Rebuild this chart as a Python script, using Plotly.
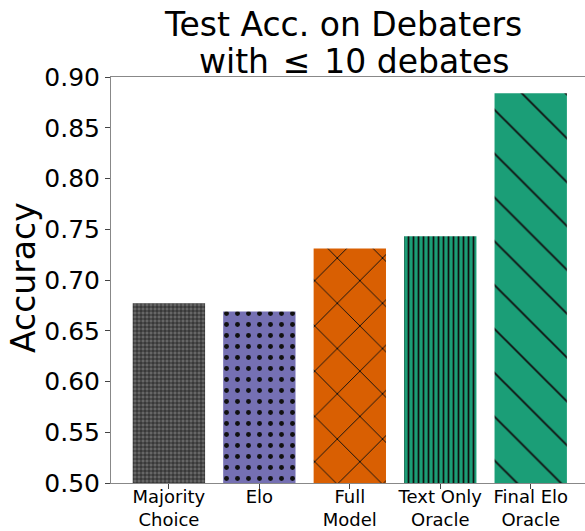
import plotly.graph_objects as go

models = ["Majority<br>Choice", "Elo", "Full<br>Model", "Text Only<br>Oracle", "Final Elo<br>Oracle"]
accuracy = [0.677, 0.669, 0.731, 0.743, 0.884]
colors = ["#666666", "#7570b3", "#d95f02", "#1b9e77", "#1b9e77"]
hatches = ["+", ".", "x", "|", "\\"]
hatch_sizes = [4, 11, 32, 5, 31]
hatch_solidity = [0.3, 0.16, 0.06, 0.35, 0.06]

font = "DejaVu Sans"

fig = go.Figure()
for i, name in enumerate(models):
    fig.add_trace(
        go.Bar(
            x=[i],
            y=[accuracy[i]],
            width=0.8,
            name=name,
            marker=dict(
                color=colors[i],
                line=dict(width=0),
                pattern=dict(
                    shape=hatches[i],
                    size=hatch_sizes[i],
                    solidity=hatch_solidity[i],
                    fgcolor="#111111",
                    fgopacity=1,
                    fillmode="overlay",
                ),
            ),
        )
    )

# two-line title, placed as annotations for tight line spacing
fig.add_annotation(
    text="Test Acc. on Debaters", xref="paper", yref="paper",
    x=0.489, y=1.13, xanchor="center", yanchor="middle",
    showarrow=False, font=dict(size=33, family=font, color="black"),
)
fig.add_annotation(
    text="with\u200a\u00a0\u2264\u00a0\u200a10 debates", xref="paper", yref="paper",
    x=0.513, y=1.0394, xanchor="center", yanchor="middle",
    showarrow=False, font=dict(size=33, family=font, color="black"),
)
# y-axis label
fig.add_annotation(
    text="Accuracy", xref="paper", yref="paper",
    x=-0.1835, y=0.505, xanchor="center", yanchor="middle", textangle=-90,
    showarrow=False, font=dict(size=33, family=font, color="black"),
)

fig.update_layout(
    width=585,
    height=531,
    barmode="overlay",
    paper_bgcolor="white",
    plot_bgcolor="white",
    showlegend=False,
    font=dict(family=font, color="black"),
    margin=dict(l=111, r=0, t=77, b=48),
    xaxis=dict(
        range=[-0.64, 4.6],
        tickmode="array",
        tickvals=list(range(len(models))),
        ticktext=models,
        tickfont=dict(size=18),
        ticks="outside",
        ticklen=5,
        tickcolor="#444444",
        ticklabelstandoff=-8,
        showline=True,
        linecolor="#888888",
        mirror=True,
        showgrid=False,
        zeroline=False,
        automargin=False,
    ),
    yaxis=dict(
        range=[0.5, 0.9],
        dtick=0.05,
        tickformat=".2f",
        tickfont=dict(size=25),
        ticks="outside",
        ticklen=5,
        tickcolor="#444444",
        showline=True,
        linecolor="#888888",
        showgrid=False,
        zeroline=False,
        automargin=False,
    ),
)

# drop the default 8px page margin so the figure sits at the window corner
fig.write_html(
    "out.html",
    config={"displayModeBar": False},
    post_script="document.body.style.margin = '0';",
)
